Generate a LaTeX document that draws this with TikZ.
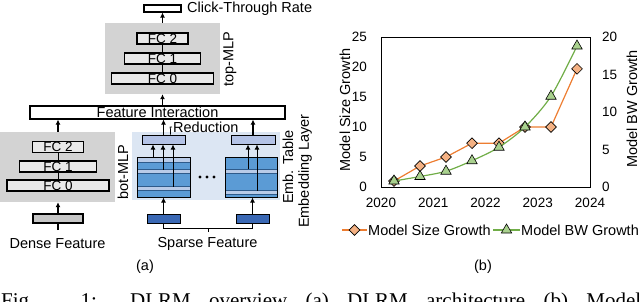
\documentclass[tikz,border=0pt]{standalone}
\usepackage{fontspec}
\setmainfont{Liberation Sans}
\newfontfamily\capfont{Liberation Serif}
\usepackage{tikz}
\usetikzlibrary{arrows.meta, plotmarks}

\definecolor{mlpgray}{HTML}{D3D3D3}
\definecolor{fcgray}{HTML}{E9E9E9}
\definecolor{densegray}{HTML}{C6C6C6}
\definecolor{embbg}{HTML}{DCE6F3}
\definecolor{tabblue}{HTML}{5B9BD5}
\definecolor{tablight}{HTML}{B8CBE8}
\definecolor{tabline}{HTML}{2E5A8A}
\definecolor{redfill}{HTML}{B4C3E6}
\definecolor{sparseblue}{HTML}{3A68B4}
\definecolor{sizeline}{HTML}{ED7D31}
\definecolor{sizefill}{HTML}{F4B183}
\definecolor{bwline}{HTML}{70AD47}
\definecolor{bwfill}{HTML}{A9D18E}

\begin{document}
\begin{tikzpicture}[x=1pt, y=-1pt, >={Latex[length=5pt,width=5pt]},
        every node/.style={inner sep=1pt, font=\fontsize{14.5}{16}\selectfont},
        box/.style={draw, line width=1.2pt, inner sep=0pt},
        fcbox/.style={box, fill=fcgray, minimum height=11pt, text height=9pt, text depth=0pt, font=\fontsize{13.5}{13}\selectfont},
        bg/.style={inner sep=0pt},
        tick/.style={font=\fontsize{13.5}{14}\selectfont},
        flow/.style={->, line width=1.2pt}]
        \clip (0,0) rectangle (640,301);
        % (a) top-MLP
        \node[bg, fill=mlpgray, minimum width=115, minimum height=71] (topmlp) at (162.5,58.5) {};
        \node[fcbox, minimum width=51] (top2) at (162.5,38.5) {FC 2};
        \node[fcbox, minimum width=76] (top1) at (162.5,58.5) {FC 1};
        \node[fcbox, minimum width=102] (top0) at (162.5,78.5) {FC 0};
        \draw[line width=0.9pt] (top0) -- (top1) -- (top2);
        \node[rotate=90] (toplbl) at (230,59) {top-MLP};
        \node[box, minimum width=37, minimum height=7] (ctr) at (162.5,8.5) {};
        \node[anchor=west] (ctrlbl) at (186,9) {Click-Through Rate};
        \draw[flow] (topmlp) -- (ctr);
        \node[box, fill=white, minimum width=255, minimum height=13, text height=10pt, text depth=0pt] (fi) at (157.5,112.5) {Feature Interaction};
        \draw[flow] (fi.north -| topmlp.south) -- (topmlp.south);
        % (a) bot-MLP
        \node[bg, fill=mlpgray, minimum width=115, minimum height=70] (botmlp) at (57.5,167) {};
        \node[fcbox, minimum width=51] (bot2) at (58,147) {FC 2};
        \node[fcbox, minimum width=77] (bot1) at (58,166.5) {FC 1};
        \node[fcbox, minimum width=102] (bot0) at (58,185.5) {FC 0};
        \draw[line width=0.9pt] (bot0) -- (bot1) -- (bot2);
        \node[rotate=90] (botlbl) at (123,172) {bot-MLP};
        \draw[flow] (botmlp.north -| bot2.north) -- (fi.south -| bot2.north);
        \node[box, fill=densegray, minimum width=50, minimum height=9] (dense) at (58,218.5) {};
        \coordinate (densein) at (58,230);
        \draw[line width=1.2pt] (densein) -- (dense.south);
        \draw[flow] (dense) -- (botmlp.south -| dense.north);
        \node (denselbl) at (57.5,244) {Dense Feature};
        % (a) embedding layer
        \node[bg, fill=embbg, minimum width=148, minimum height=68] (emb) at (206,166) {};
        \node[box, line width=1pt, fill=redfill, minimum width=43, minimum height=9] (red1) at (163.5,139.5) {};
        \node[box, line width=1pt, fill=redfill, minimum width=44, minimum height=9] (red2) at (253,139.5) {};
        \draw[flow] (red1) -- (fi.south -| red1.north);
        \draw[flow] (red2) -- (fi.south -| red2.north);
        \node[anchor=west] (redlbl) at (172,127) {Reduction};
        \draw[line width=0.8pt] (red1.north -| 170.5,0) -- ++(0,-5) .. controls +(0,-3) and +(-3,0) .. (redlbl.west);
        % tables
        \fill[tabblue] (137,157) rectangle (190,197);
        \foreach \a/\b in {158/162, 169.5/173.5, 186.5/190.5}
            \fill[tablight] (137,\a) rectangle (190,\b);
        \foreach \y in {162,169.5,173.5,186.5,190.5}
            \draw[tabline, line width=0.5pt] (137,\y) -- (190,\y);
        \node[draw, line width=1pt, minimum width=53, minimum height=40, bg] (tab1) at (163.5,177) {};
        \fill[tabblue] (225,157) rectangle (277,197);
        \foreach \a/\b in {169/173, 190.5/194.5}
            \fill[tablight] (225,\a) rectangle (277,\b);
        \foreach \y in {169,173,190.5,194.5}
            \draw[tabline, line width=0.5pt] (225,\y) -- (277,\y);
        \node[draw, line width=1pt, minimum width=52, minimum height=40, bg] (tab2) at (251,177) {};
        \foreach \x/\d in {153/158, 163/169.5, 173/186.5}
            \draw[->, line width=1pt] (\x,\d) -- (red1.south -| \x,0);
        \foreach \x/\d in {248/169, 257/190.5}
            \draw[->, line width=1pt] (\x,\d) -- (red2.south -| \x,0);
        \foreach \x in {200,207,214}
            \fill (\x,177) circle (1.6);
        \node[rotate=90] (tablbl) at (288,167) {Emb. Table};
        \node[rotate=90] (emblbl) at (305,171) {Embedding Layer};
        % sparse input
        \node[box, line width=1pt, fill=sparseblue, minimum width=33, minimum height=9] (sp1) at (163.5,218.5) {};
        \node[box, line width=1pt, fill=sparseblue, minimum width=33, minimum height=9] (sp2) at (252.5,218.5) {};
        \draw[flow] (sp1) -- (tab1.south -| sp1.north);
        \draw[flow] (sp2) -- (tab2.south -| sp2.north);
        \coordinate (spjoin) at (208,232);
        \draw[line width=0.8pt] (sp1.south) -- ++(0,4.5) -| (sp2.south);
        \draw[line width=0.8pt] (spjoin) -- ++(0,-4.5);
        \node (sparselbl) at (207.5,244) {Sparse Feature};
        \node (alabel) at (145,267) {(a)};
        % (b) growth plot
        \draw[line width=0.9pt] (381,37) rectangle (590,187);
        \foreach \v [count=\i from 0] in {0,5,...,25}
            \node[tick, anchor=east] at (368,{187-30*\i}) {\v};
        \foreach \v [count=\i from 0] in {0,5,...,20}
            \node[tick, anchor=west] at (601,{187-37.5*\i}) {\v};
        \foreach \yr [count=\i from 0] in {2020,...,2024}
            \node[tick] at ({381+52.25*\i},203) {\yr};
        \node[rotate=90] (ylbl) at (345,110) {Model Size Growth};
        \node[rotate=90] (y2lbl) at (632,109) {Model BW Growth};
        \draw[sizeline, line width=1.2pt] plot[mark=square*, mark size=3.8pt,
            mark options={rotate=45, draw=black, fill=sizefill, line width=0.6pt}]
            coordinates {(394,181) (420,166) (446,157) (472,143.2) (499,143.2) (525,127) (551,127) (577,68.8)};
        \draw[bwline, line width=1.2pt] plot[smooth, tension=0.5, mark=triangle*, mark size=6pt,
            mark options={draw=black, fill=bwfill, line width=0.6pt}]
            coordinates {(394,181) (420,176.5) (446,171.2) (472,160.7) (499,147.2) (525,127) (551,96.2) (577,46)};
        % legend
        \draw[sizeline, line width=1.2pt] plot[mark=square*, mark indices={2}, mark size=3.8pt,
            mark options={rotate=45, draw=black, fill=sizefill, line width=0.6pt}]
            coordinates {(342,230) (354.5,230) (367,230)};
        \node[anchor=west] (sizeleg) at (367,230) {Model Size Growth};
        \draw[bwline, line width=1.2pt] plot[mark=triangle*, mark indices={2}, mark size=6pt,
            mark options={draw=black, fill=bwfill, line width=0.6pt}]
            coordinates {(493,230) (506.5,230) (520,230)};
        \node[anchor=west] (bwleg) at (520,230) {Model BW Growth};
        \node (blabel) at (483,267) {(b)};
        % caption, cut by the page edge
        \node[anchor=base west, inner sep=0pt, font=\capfont\fontsize{21}{21}\selectfont] (caption) at (1,307)
            {\makebox[640pt][s]{Fig. 1: DLRM overview (a) DLRM architecture (b) Model}};
    \end{tikzpicture}
\end{document}
